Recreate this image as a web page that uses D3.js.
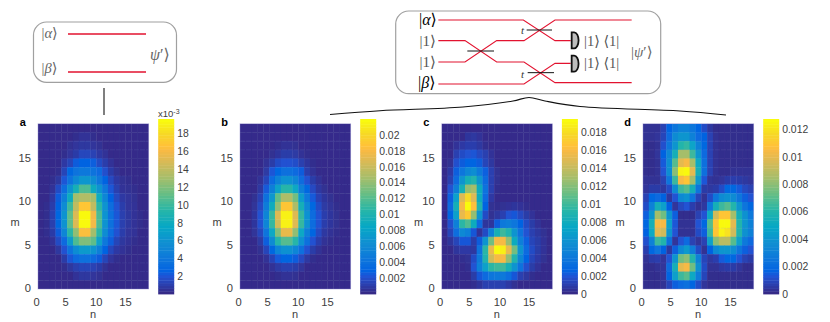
<!DOCTYPE html>
<html>
<head>
<meta charset="utf-8">
<script src="https://cdnjs.cloudflare.com/ajax/libs/d3/7.8.5/d3.min.js"></script>
<style>
  html, body { margin: 0; padding: 0; background: #fff; }
  svg { display: block; }
  text { font-family: "Liberation Sans", Arial, sans-serif; }
</style>
</head>
<body>
<div id="chart"></div>
<script>
/* Data: cell values in units of 10^-3, first row is m = 18, last row is m = 0 */
/* ========= */

var panelNames = ['a', 'b', 'c', 'd'];
var gridIndex = [0, 1, 2, 3, 4, 5, 6, 7, 8, 9, 10, 11, 12, 13, 14, 15, 16, 17, 18];
var axisTicks = [0, 5, 10, 15];
var seamRows = [17, 16, 13, 12, 9, 7, 6, 3, 2];

var aValues = [
  [.1,.1,.1,.1,.1,.1,.1,.1,.1,.1,.1,.1,.1,.1,.1,.1,.1,.1,.1],
  [.1,.1,.1,.1,.1,.1,.2,.4,.4,.2,.1,.1,.1,.1,.1,.1,.1,.1,.1],
  [.1,.1,.1,.1,.1,.3,.5,.6,.6,.5,.3,.1,.1,.1,.1,.1,.1,.1,.1],
  [.1,.1,.1,.1,.2,.5,.8,1.3,1.3,1.1,.7,.4,.1,.1,.1,.1,.1,.1,.1],
  [.1,.1,.1,.1,.7,1.2,2.2,2.5,2.5,2.3,1.5,.9,.4,.1,.1,.1,.1,.1,.1],
  [.1,.1,.1,.2,1.2,2.8,3.6,4,4,3.6,3,1.7,.8,.3,.1,.1,.1,.1,.1],
  [.1,.1,.2,.6,2,3.6,5.2,6.2,6.2,5.5,4,2.6,1.4,.7,.3,.2,.1,.1,.1],
  [.1,.1,.4,1.5,3.2,6,8.5,10.5,10.5,8,6,4,2,1,.4,.3,.2,.1,.1],
  [.1,.1,.7,2.2,4.5,8,13,13.5,13.5,13,8,5,2.6,1.4,.7,.5,.3,.1,.1],
  [.1,.2,.9,2.6,5.5,10,14,17,17,14,9.5,6,3.2,1.8,.9,.5,.4,.1,.1],
  [.1,.2,1,2.8,6,11,15,19.5,19.5,16,10.5,6,3.5,2,1,.6,.4,.2,.1],
  [.1,.2,1,2.8,6,11,15,19.5,19.5,16,10.5,6,3.5,2,1,.6,.4,.2,.1],
  [.1,.2,.8,2.2,5,9.5,12.5,16.5,16.5,13,9.5,5.5,3.2,1.8,.9,.5,.4,.1,.1],
  [.1,.1,.4,1.5,3,6.5,10.5,12,12,11,7,4,2.3,1.2,.6,.4,.2,.1,.1],
  [.1,.1,.1,.6,1.8,3.6,5.5,6.5,6.5,6,4.5,2.6,1.3,.7,.4,.2,.1,.1,.1],
  [.1,.1,.1,.1,.8,2,3,3.5,3.5,3,2.2,1.2,.5,.2,.1,.1,.1,.1,.1],
  [.1,.1,.1,.1,.2,.6,1,1.2,1.2,1.1,.8,.3,.1,.1,.1,.1,.1,.1,.1],
  [.1,.1,.1,.1,.1,.1,.4,.6,.6,.5,.3,.1,.1,.1,.1,.1,.1,.1,.1],
  [.1,.1,.1,.1,.1,.1,.1,.1,.1,.1,.1,.1,.1,.1,.1,.1,.1,.1,.1]
];

var bValues = [
  [.1,.1,.1,.1,.1,.1,.1,.1,.1,.1,.1,.1,.1,.1,.1,.1,.1,.1,.1],
  [.1,.1,.1,.1,.1,.1,.1,.1,.1,.1,.1,.1,.1,.1,.1,.1,.1,.1,.1],
  [.1,.1,.1,.1,.1,.1,.2,.4,.4,.3,.1,.1,.1,.1,.1,.1,.1,.1,.1],
  [.1,.1,.1,.1,.1,.3,.6,.9,.9,.8,.4,.2,.1,.1,.1,.1,.1,.1,.1],
  [.1,.1,.1,.1,.4,.9,1.7,2,2,1.8,1.1,.6,.2,.1,.1,.1,.1,.1,.1],
  [.1,.1,.1,.1,.8,2.2,3.2,3.8,3.8,3.3,2.5,1,.4,.1,.1,.1,.1,.1,.1],
  [.1,.1,.1,.4,1.4,3.4,5.2,6.5,6.5,5.5,3.5,2,.9,.4,.1,.1,.1,.1,.1],
  [.1,.1,.1,.7,2.4,5,8,10.5,10.5,8.5,5,3.2,1.6,.7,.3,.1,.1,.1,.1],
  [.1,.1,.3,1.2,3.8,7,12.5,15,15,13,7.5,4.5,2.4,1.2,.6,.3,.1,.1,.1],
  [.1,.1,.5,1.6,4.8,9,14,19,19,15,9.5,5.8,3.2,1.7,.8,.5,.2,.1,.1],
  [.1,.1,.6,2,5.5,11,17,21.5,21.5,17,11,6.5,3.5,2,1,.6,.3,.1,.1],
  [.1,.1,.6,2,5.5,11,16.5,21.5,21.5,17,11,6.5,3.5,2,1,.6,.3,.1,.1],
  [.1,.1,.5,1.5,4.2,8.5,13.5,17.5,17.5,14,8.5,5,3,1.6,.7,.4,.2,.1,.1],
  [.1,.1,.1,.8,2.6,6,10.5,12,12,10.5,6.5,3.8,2,1,.4,.2,.1,.1,.1],
  [.1,.1,.1,.3,1.4,3.2,5.5,6.5,6.5,5.5,3.8,2,.9,.4,.1,.1,.1,.1,.1],
  [.1,.1,.1,.1,.4,1.3,2.4,3,3,2.5,1.6,.7,.2,.1,.1,.1,.1,.1,.1],
  [.1,.1,.1,.1,.1,.4,.8,1.1,1.1,.9,.5,.1,.1,.1,.1,.1,.1,.1,.1],
  [.1,.1,.1,.1,.1,.1,.2,.4,.4,.3,.1,.1,.1,.1,.1,.1,.1,.1,.1],
  [.1,.1,.1,.1,.1,.1,.1,.1,.1,.1,.1,.1,.1,.1,.1,.1,.1,.1,.1]
];

var cValues = [
  [.1,.1,.1,.1,.1,.1,.1,.1,.1,.1,.1,.1,.1,.1,.1,.1,.1,.1,.1],
  [.1,.1,.1,.1,.5,.6,.4,.1,.1,.1,.1,.1,.1,.1,.1,.1,.1,.1,.1],
  [.1,.1,.4,.7,.9,.9,.6,.2,.1,.1,.1,.1,.1,.1,.1,.1,.1,.1,.1],
  [.1,.1,1,1.5,1.8,1.9,1.4,1,.4,.1,.1,.1,.1,.1,.1,.1,.1,.1,.1],
  [.1,.3,1.7,2.2,2.6,2.6,2.2,1.2,.6,.1,.1,.1,.1,.1,.1,.1,.1,.1,.1],
  [.1,.7,2.3,3.8,5,5.5,4,2.4,1,.3,.1,.1,.1,.1,.1,.1,.1,.1,.1],
  [.1,1,3,6,8.5,9,6,3,1,.3,.1,.1,.1,.1,.1,.1,.1,.1,.1],
  [.1,1.8,4.4,8.5,12.5,13,8,3.5,1,.2,.1,.1,.1,.1,.1,.1,.1,.1,.1],
  [.1,2.4,7,15,18,15,8,3,.7,.1,.1,.1,.1,.1,.1,.1,.1,.1,.1],
  [.1,3,8.5,16,19.5,16.5,9,2.5,.3,.2,.3,.4,.5,.4,.2,.1,.1,.1,.1],
  [.1,2.6,7,15.5,17,12.5,6,1.5,.3,.6,1,1.8,2,1.4,.8,.4,.1,.1,.1],
  [.1,1.7,4.5,9.5,10.5,8,3,.5,.5,2.2,4,4.4,3.8,2.5,1.5,.8,.4,.1,.1],
  [.1,1.2,3.2,5.2,4.5,2,.4,1.5,4.5,8.5,10,9,6,3.6,1.8,1,.6,.3,.1],
  [.1,.5,1.2,2,2,.8,2.2,6,11.5,16,16,12.5,8,4.5,2.4,1.2,.8,.4,.1],
  [.1,.1,.5,.7,.7,.6,3.5,9.5,15.5,19.5,19,15.5,11.5,6,3,1.5,.8,.4,.1],
  [.1,.1,.1,.2,.3,1.5,4,9,14.5,16,16,12.5,9,5,2.5,1.2,.7,.3,.1],
  [.1,.1,.1,.1,.2,1.8,4.5,7,9.5,10,10,8.5,6,3.5,1.7,.8,.4,.1,.1],
  [.1,.1,.1,.1,.1,.8,2,3,3.8,4,4,3.2,2,1,.6,.2,.1,.1,.1],
  [.1,.1,.1,.1,.1,.2,.5,1,1,1,1,.7,.3,.1,.1,.1,.1,.1,.1]
];

var dValues = [
  [.2,.2,.2,.7,1.7,2.5,3,3,2.5,1.7,1,.4,.1,.1,.1,.1,.1,.1,.1],
  [.2,.2,.3,.8,2,3.5,4,4,3,2,1.6,.7,.2,.1,.1,.1,.1,.1,.1],
  [.1,.1,.2,1.1,2.5,4,6,6.3,4.7,3,1.8,.7,.2,.1,.1,.1,.1,.1,.1],
  [.1,.1,.3,1.6,3.3,5.5,8.5,8.5,6.5,4,2,.7,.2,.1,.1,.1,.1,.1,.1],
  [.1,.1,.2,1.4,3.6,7,10,10.5,8.5,5,2.2,.7,.2,.1,.1,.1,.1,.1,.1],
  [.1,.1,.2,1.2,3.6,8,12.5,12.7,10,5.5,2.2,.7,.2,.1,.1,.2,.2,.2,.2],
  [.2,.2,.2,.7,2.4,6.5,10.5,11,8.5,4.2,1.3,.3,.2,.3,.5,.6,.5,.4,.3],
  [.3,.5,.5,.4,1,3.5,6.5,7,5.5,2.4,.5,.4,.5,1,1.8,1.8,1.4,.9,.7],
  [.7,1.8,2,1.6,.4,1.2,3.4,3.8,2.4,.8,.2,1,2.5,3.5,3.8,3.5,2.5,1.5,1.2],
  [1,3,5.5,4.5,1.6,.3,.9,1.2,.6,.2,.4,2.6,5.5,6.5,7,6,4,2.4,1.8],
  [1.5,4,8.5,7.5,4,1.5,.1,.1,.1,.7,1.2,5,9.5,11,11,8.5,5.5,3.8,2.6],
  [1.8,5.5,10.5,10.5,4.5,1.3,.2,.2,.2,1.2,1.8,7,11,12.7,12.7,10,6,4,3],
  [1.6,5,10,9.5,4,1.2,.2,.2,.2,1,1.5,6.5,11,12.5,12,9.5,6,3.8,3],
  [1.1,3,6.5,6,2.2,.3,1.2,2,.7,.3,.7,4.5,8,9,9,7,4.5,2.6,2],
  [.6,1.8,2.4,1.6,.4,1.5,3.4,4.2,2.8,1,.2,1.6,3.4,4,4,3.6,2.4,1.5,1.2],
  [.2,.5,.6,.3,1.2,4,7.5,8,6,3,.8,.4,.6,1.4,1.8,1.8,1.2,.7,.5],
  [.1,.1,.2,.3,2,5.5,10,10.5,7.5,3.8,1,.2,.2,.4,.5,.5,.3,.1,.1],
  [.1,.1,.1,.3,1.7,4.5,6.5,7,5,2.8,.8,.1,.1,.1,.1,.1,.1,.1,.1],
  [.1,.1,.1,.2,.8,1.5,2,2.2,1.7,1,.3,.1,.1,.1,.1,.1,.1,.1,.1]
];

var panelValues = [aValues, bValues, cValues, dValues];
var colorLimits = [[0.00002, 0.0196], [0, 0.022], [0, 0.0195], [0, 0.01275]];
var colorTicks = [
  [2, 4, 6, 8, 10, 12, 14, 16, 18],
  [0.002, 0.004, 0.006, 0.008, 0.01, 0.012, 0.014, 0.016, 0.018, 0.02],
  [0, 0.002, 0.004, 0.006, 0.008, 0.01, 0.012, 0.014, 0.016, 0.018],
  [0, 0.002, 0.004, 0.006, 0.008, 0.01, 0.012]
];

// parula
var parulaStops = ['#352a87', '#2053d4', '#0363e1', '#0d75dc', '#108ed2', '#06a7c6', '#25b5a9',
                   '#65be86', '#a5be6b', '#d9ba56', '#f8ba44', '#ffc337', '#f7d826', '#f9fb0e'];
var parulaPlaces = [0, 6, 8, 12, 18, 24, 30, 36, 42, 48, 52, 54, 58, 63].map(function(d) { return d / 63; });
var parula = d3.scaleLinear().domain(parulaPlaces).range(parulaStops).clamp(true);

/* Chart */
/* ========= */

var width = 830,
    height = 322,
    plotLefts = [38, 240, 441.7, 643],
    plotTop = 123.7,
    plotWidth = 110.7,
    plotHeight = 165.3,
    barTop = 119,
    barBottom = 294,
    barGap = 9.5,
    barWidth = 16,
    inkColor = '#404040';

var svg = d3.select('#chart').append('svg')
    .attr('width', width)
    .attr('height', height)
    .attr('viewBox', '0 0 ' + width + ' ' + height);

var defs = svg.append('defs');
defs.append('filter').attr('id', 'soft')
    .attr('x', '-2%').attr('y', '-2%').attr('width', '104%').attr('height', '104%')
  .append('feGaussianBlur').attr('stdDeviation', 0.55);

panelNames.forEach(function(name, p) {

  var left = plotLefts[p];
  var x = d3.scaleLinear().domain([0, 19]).range([left, left + plotWidth]);
  var y = d3.scaleLinear().domain([0, 19]).range([plotTop + plotHeight, plotTop]);
  var limits = colorLimits[p];
  var norm = d3.scaleLinear().domain(limits).range([0, 1]);

  defs.append('clipPath').attr('id', 'clip-' + name)
    .append('rect')
      .attr('x', left).attr('y', plotTop)
      .attr('width', plotWidth).attr('height', plotHeight);

  var clipped = svg.append('g').attr('clip-path', 'url(#clip-' + name + ')');
  var cells = clipped.append('g').attr('filter', 'url(#soft)');

  panelValues[p].forEach(function(row, r) {
    var m = 18 - r;
    cells.selectAll('rect.r' + m)
      .data(row)
      .enter()
      .append('rect')
        .attr('class', 'r' + m)
        .attr('x', function(d, i) { return x(gridIndex[i]); })
        .attr('y', y(m + 1))
        .attr('width', x(1) - x(0) + 0.4)
        .attr('height', y(0) - y(1) + 0.4)
        .style('fill', function(d) { return parula(norm(d / 1000)); });
  });

  // the faint seams left over between some rows of the original image
  clipped.selectAll('line.seam')
    .data(seamRows)
    .enter()
    .append('line')
      .attr('class', 'seam')
      .attr('x1', left).attr('x2', left + plotWidth)
      .attr('y1', function(d) { return y(d); })
      .attr('y2', function(d) { return y(d); })
      .style('stroke', '#8f8fd0')
      .style('stroke-opacity', 0.2)
      .style('stroke-width', 0.7)
      .style('stroke-dasharray', '5 1');

  svg.append('rect')
      .attr('x', left).attr('y', plotTop)
      .attr('width', plotWidth).attr('height', plotHeight)
      .style('fill', 'none')
      .style('stroke', '#8d88c8')
      .style('stroke-opacity', 0.6)
      .style('stroke-width', 0.7);

  // axes
  var xAxis = svg.append('g')
      .attr('transform', 'translate(0,' + (plotTop + plotHeight) + ')')
      .call(d3.axisBottom(x).tickValues(axisTicks).tickSize(0).tickPadding(9));
  xAxis.select('.domain').remove();
  xAxis.selectAll('text')
      .attr('dx', function(d) { return d < 10 ? -2 : -0.5; })
      .style('font-family', '"Liberation Sans", Arial, sans-serif')
      .style('font-size', '11.2px')
      .style('fill', inkColor);

  var yAxis = svg.append('g')
      .attr('transform', 'translate(' + left + ',0)')
      .call(d3.axisLeft(y).tickValues(axisTicks).tickSize(0).tickPadding(7));
  yAxis.select('.domain').remove();
  yAxis.selectAll('text')
      .attr('dy', '0.25em')
      .style('font-family', '"Liberation Sans", Arial, sans-serif')
      .style('font-size', '11.2px')
      .style('fill', inkColor);

  svg.append('text')
      .attr('x', left + 55)
      .attr('y', 318)
      .attr('text-anchor', 'middle')
      .style('font-size', '11px')
      .style('fill', inkColor)
      .text('n');

  svg.append('text')
      .attr('x', left - 23)
      .attr('y', 225.5)
      .attr('text-anchor', 'middle')
      .style('font-size', '11px')
      .style('fill', inkColor)
      .text('m');

  svg.append('text')
      .attr('x', left - 15.3)
      .attr('y', 126)
      .attr('text-anchor', 'middle')
      .style('font-size', '11px')
      .style('font-weight', 'bold')
      .style('fill', '#000')
      .text(name);

  // colour bar
  var barLeft = left + plotWidth + barGap;
  var barValue = d3.scaleLinear().domain(limits).range([barBottom, barTop]);
  var levels = d3.range(64);
  var level = d3.scaleLinear().domain([0, 64]).range(limits);

  svg.append('g').selectAll('rect')
    .data(levels)
    .enter()
    .append('rect')
      .attr('x', barLeft)
      .attr('width', barWidth)
      .attr('y', function(d) { return barValue(level(d + 1)); })
      .attr('height', function(d) { return barValue(level(d)) - barValue(level(d + 1)) + 0.4; })
      .style('fill', function(d) { return parula(d / 63); });

  var barScale = p === 0 ? d3.scaleLinear().domain([limits[0] * 1000, limits[1] * 1000]).range([barBottom, barTop]) : barValue;

  var barAxis = svg.append('g')
      .attr('transform', 'translate(' + (barLeft + barWidth) + ',0)')
      .call(d3.axisRight(barScale).tickValues(colorTicks[p]).tickSize(0).tickPadding(3)
        .tickFormat(function(d) { return String(d); }));
  barAxis.select('.domain').remove();
  barAxis.selectAll('text')
      .attr('dy', '0.32em')
      .style('font-family', '"Liberation Sans", Arial, sans-serif')
      .style('font-size', '10.4px')
      .style('fill', inkColor);
});

svg.append('text')
    .attr('x', 158)
    .attr('y', 117)
    .style('font-size', '9.5px')
    .style('fill', inkColor)
    .text('x10')
  .append('tspan')
    .attr('dy', -3)
    .style('font-size', '7px')
    .text('-3');

/* Schematics */
/* ========= */

var red = '#e2122f';
var polyline = d3.line();

function wire(points, colour, w) {
  svg.append('path')
      .attr('d', polyline(points))
      .style('fill', 'none')
      .style('stroke', colour || red)
      .style('stroke-width', w || 1.1);
}

function box(x, y, w, h) {
  svg.append('rect')
      .attr('x', x).attr('y', y)
      .attr('width', w).attr('height', h)
      .attr('rx', 13).attr('ry', 13)
      .style('fill', '#fff')
      .style('stroke', '#a0a0a0')
      .style('stroke-width', 1.2);
}

// math label: plain text then one italic symbol then plain text
function ket(x, y, before, symbol, after, size, colour) {
  var t = svg.append('text')
      .attr('x', x).attr('y', y)
      .style('font-family', '"Liberation Serif", "DejaVu Serif", serif')
      .style('font-size', size + 'px')
      .style('fill', colour);
  t.append('tspan').text(before);
  t.append('tspan').style('font-style', 'italic').text(symbol);
  t.append('tspan').text(after);
}

// left box
box(33.5, 22, 143, 60.3);
wire([[68, 34], [146, 34]], red, 1.3);
wire([[68, 72], [146, 72]], red, 1.3);
ket(41.5, 38, '|', 'α', '⟩', 14.5, '#666');
ket(41.5, 73, '|', 'β', '⟩', 14.5, '#666');
ket(150, 60, '', 'ψ', '′⟩', 16, '#666');
wire([[104, 88], [104, 115]], '#555', 1.5);

// right box
box(395.7, 11, 265, 82.7);

var zx = d3.scaleLinear().domain([0, 300]).range([380, 680]);
var zy = d3.scaleLinear().domain([0, 300]).range([0, 100]);
function zoomed(list) {
  return list.map(function(d) { return [zx(d[0] / 3), zy(d[1])]; });
}

wire(zoomed([[175, 60], [430, 60], [525, 122], [572, 122]]));
wire(zoomed([[175, 122], [255, 122], [350, 186], [432, 186], [525, 248], [755, 248]]));
wire(zoomed([[175, 186], [255, 186], [350, 122], [432, 122], [525, 60], [755, 60]]));
wire(zoomed([[175, 252], [432, 252], [525, 190], [572, 190]]));
wire(zoomed([[262, 153], [342, 153]]), '#111', 1);
wire(zoomed([[440, 90], [516, 90]]), '#111', 1);
wire(zoomed([[443, 218], [522, 218]]), '#111', 1);

ket(521, 34, '', 't', '', 11, '#333');
ket(521, 78, '', 't', '', 11, '#333');

[[97, 145], [167, 215]].forEach(function(d) {
  var top = zy(d[0]), bottom = zy(d[1]), r = (bottom - top) / 2, lx = zx(575 / 3);
  svg.append('path')
      .attr('d', 'M' + lx + ',' + top + 'H' + (lx + 2.5) + 'A' + (r * 0.55) + ',' + r + ' 0 0 1 ' + (lx + 2.5) + ',' + bottom + 'H' + lx + 'Z')
      .style('fill', '#bdbdbd')
      .style('stroke', '#111')
      .style('stroke-width', 1.8);
});

ket(584, 46, '|1⟩ ⟨1|', '', '', 14.5, '#555');
ket(584, 68, '|1⟩ ⟨1|', '', '', 14.5, '#555');
ket(631, 57, '|', 'ψ', '′⟩', 15, '#666');

ket(419, 25, '|', 'α', '⟩', 16, '#000');
ket(419.5, 46, '|1⟩', '', '', 15, '#555');
ket(419.5, 67, '|1⟩', '', '', 15, '#555');
ket(418, 88, '|', 'β', '⟩', 16, '#000');

// brace over panels b, c and d
var brace = d3.line().curve(d3.curveCatmullRom.alpha(0.5));
svg.append('path')
    .attr('d', brace([[330, 114.5], [380, 110.7], [463, 107], [513, 101], [529, 97.5], [545, 101], [580, 106.5], [680, 111], [726, 115]]))
    .style('fill', 'none')
    .style('stroke', '#111')
    .style('stroke-width', 1.1);
</script>
</body>
</html>
